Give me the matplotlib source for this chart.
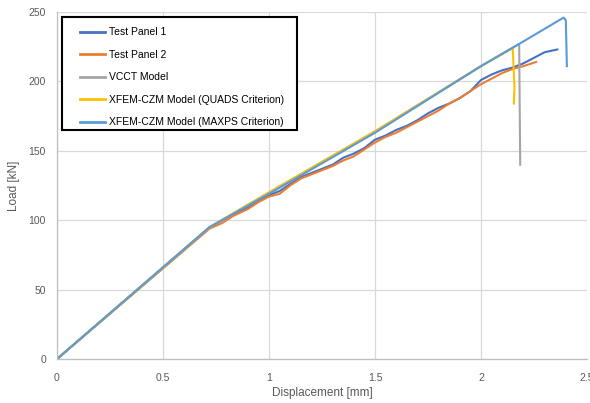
import matplotlib
matplotlib.use("Agg")
import matplotlib.pyplot as plt
from matplotlib.patches import Rectangle

plt.rcParams['font.family'] = ['Liberation Sans', 'DejaVu Sans']

# Load-displacement data
panel1_x = [0, 0.72, 0.78, 0.83, 0.90, 0.95, 1.00, 1.05, 1.10, 1.15, 1.20, 1.25, 1.30,
            1.35, 1.40, 1.45, 1.50, 1.55, 1.60, 1.65, 1.70, 1.75, 1.80, 1.85, 1.90,
            1.95, 2.00, 2.05, 2.10, 2.15, 2.20, 2.25, 2.30, 2.36]
panel1_y = [0, 95, 100, 104, 109, 114, 118, 121, 126, 131, 134, 137, 140,
            145, 148, 152, 158, 161, 165, 168, 172, 177, 181, 184, 188,
            193, 201, 205, 208, 210, 213, 217, 221, 223]

panel2_x = [0, 0.72, 0.78, 0.83, 0.90, 0.95, 1.00, 1.05, 1.10, 1.15, 1.20, 1.25, 1.30,
            1.35, 1.40, 1.45, 1.50, 1.55, 1.60, 1.65, 1.70, 1.75, 1.80, 1.85, 1.90,
            1.95, 2.00, 2.05, 2.10, 2.15, 2.20, 2.26]
panel2_y = [0, 94, 98, 103, 108, 113, 117, 119, 125, 130, 133, 136, 139,
            143, 146, 151, 156, 160, 163, 167, 171, 175, 179, 184, 188,
            193, 198, 202, 206, 209, 211, 214]

vcct_x = [0, 0.72, 1.00, 1.50, 2.00, 2.18, 2.185]
vcct_y = [0, 95, 120, 164, 211, 227, 140]

quads_x = [0, 0.72, 1.00, 1.50, 2.00, 2.15, 2.153, 2.158, 2.155]
quads_y = [0, 95, 120, 164, 211, 224, 212, 196, 184]

maxps_x = [0, 0.72, 1.00, 1.50, 2.00, 2.18, 2.39, 2.40, 2.403, 2.405]
maxps_y = [0, 95, 119, 163, 211, 227, 246, 244, 225, 211]

series = [
    ("Test Panel 1", panel1_x, panel1_y, "#4472C4"),
    ("Test Panel 2", panel2_x, panel2_y, "#ED7D31"),
    ("VCCT Model", vcct_x, vcct_y, "#A5A5A5"),
    ("XFEM-CZM Model (QUADS Criterion)", quads_x, quads_y, "#FFC000"),
    ("XFEM-CZM Model (MAXPS Criterion)", maxps_x, maxps_y, "#5B9BD5"),
]

W, H = 590, 403
fig = plt.figure(figsize=(W / 100, H / 100), dpi=100)
ax = fig.add_axes([57 / W, 1 - 359 / H, (587 - 57) / W, (359 - 12) / H])

for label, xs, ys, c in series:
    ax.plot(xs, ys, color=c, lw=1.5, label=label)

ax.set_xlim(0, 2.5)
ax.set_ylim(0, 250)
ax.set_xticks([0, 0.5, 1, 1.5, 2, 2.5])
ax.set_xticklabels(["0", "0.5", "1", "1.5", "2", "2.5"])
ax.set_yticks([0, 50, 100, 150, 200, 250])
ax.grid(True, color="#D9D9D9", lw=0.9)
ax.set_axisbelow(True)
for s in ["top", "right"]:
    ax.spines[s].set_visible(False)
for s in ["left", "bottom"]:
    ax.spines[s].set_color("#BFBFBF")
    ax.spines[s].set_linewidth(0.9)
ax.tick_params(axis="y", length=0, labelsize=7.5, colors="#595959", pad=8)
ax.tick_params(axis="x", length=0, labelsize=7.5, colors="#595959", pad=10)
ax.set_xlabel("Displacement [mm]", fontsize=8.5, color="#595959", labelpad=3)
ax.set_ylabel("Load [kN]", fontsize=8.5, color="#595959", labelpad=6)

# legend box
fig.patches.append(Rectangle((62 / W, 1 - 130 / H), (297 - 62) / W, (130 - 17) / H,
                             transform=fig.transFigure, fill=True, facecolor="white",
                             edgecolor="black", lw=1.5, zorder=5))
leg = fig.legend(loc="upper left", bbox_to_anchor=(73 / W, 1 - 20 / H), frameon=False,
                 fontsize=7.5, handlelength=2.4, handletextpad=0.4, labelspacing=1.2,
                 borderpad=0.2)
leg.set_zorder(6)
for line in leg.get_lines():
    line.set_linewidth(2)

fig.savefig("out.png", dpi=100)
